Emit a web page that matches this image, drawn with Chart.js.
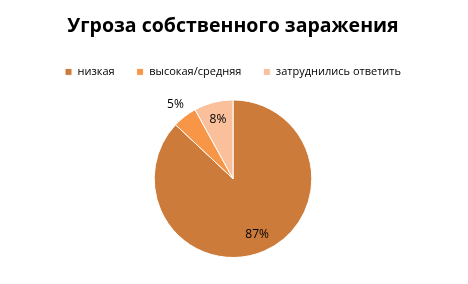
<!DOCTYPE html>
<html>
<head>
<meta charset="utf-8">
<script src="https://cdn.jsdelivr.net/npm/chart.js@4"></script>
<style>
  html, body { margin: 0; padding: 0; background: #fff; }
  #wrap { width: 468px; height: 284px; position: relative; }
</style>
</head>
<body>
<div id="wrap"><canvas id="chart"></canvas></div>
<script>
const chartTitle = 'Угроза собственного заражения';
const categories = ['низкая', 'высокая/средняя', 'затруднились ответить'];
const shares = [87, 5, 8];
const sliceColors = ['#CD7B3A', '#F79646', '#FAC09B'];

const FONT = '"Open Sans", "DejaVu Sans", sans-serif';

// extra gap under the legend
const legendGap = {
  id: 'legendGap',
  beforeInit(chart) {
    const origFit = chart.legend.fit;
    chart.legend.fit = function () {
      origFit.bind(chart.legend)();
      this.height += 12;
    };
  }
};

// percent labels: big slices inside, tiny slice outside
const pctLabels = {
  id: 'pctLabels',
  afterDatasetsDraw(chart) {
    const ctx = chart.ctx;
    const meta = chart.getDatasetMeta(0);
    ctx.save();
    ctx.font = '12px ' + FONT;
    ctx.fillStyle = '#000';
    ctx.textAlign = 'center';
    ctx.textBaseline = 'middle';
    meta.data.forEach((arc, i) => {
      const mid = (arc.startAngle + arc.endAngle) / 2;
      let r = arc.outerRadius * 0.77;
      if (shares[i] < 6) r = arc.outerRadius + 15;
      const x = arc.x + Math.cos(mid) * r;
      const y = arc.y + Math.sin(mid) * r;
      ctx.fillText(shares[i] + '%', x, y);
    });
    ctx.restore();
  }
};

new Chart(document.getElementById('chart'), {
  type: 'pie',
  data: {
    labels: categories,
    datasets: [{
      data: shares,
      backgroundColor: sliceColors,
      borderColor: '#fff',
      borderWidth: 1
    }]
  },
  options: {
    responsive: true,
    maintainAspectRatio: false,
    animation: false,
    layout: { padding: { top: 8, bottom: 26, right: 2 } },
    plugins: {
      title: {
        display: true,
        text: chartTitle,
        color: '#000',
        font: { family: FONT, size: 19.5, weight: 'bold' },
        padding: { top: 7, bottom: 6 }
      },
      legend: {
        position: 'top',
        labels: {
          boxWidth: 7,
          boxHeight: 7,
          padding: 22,
          color: '#000',
          font: { family: FONT, size: 11 }
        }
      },
      tooltip: { enabled: false }
    }
  },
  plugins: [legendGap, pctLabels]
});
</script>
</body>
</html>
